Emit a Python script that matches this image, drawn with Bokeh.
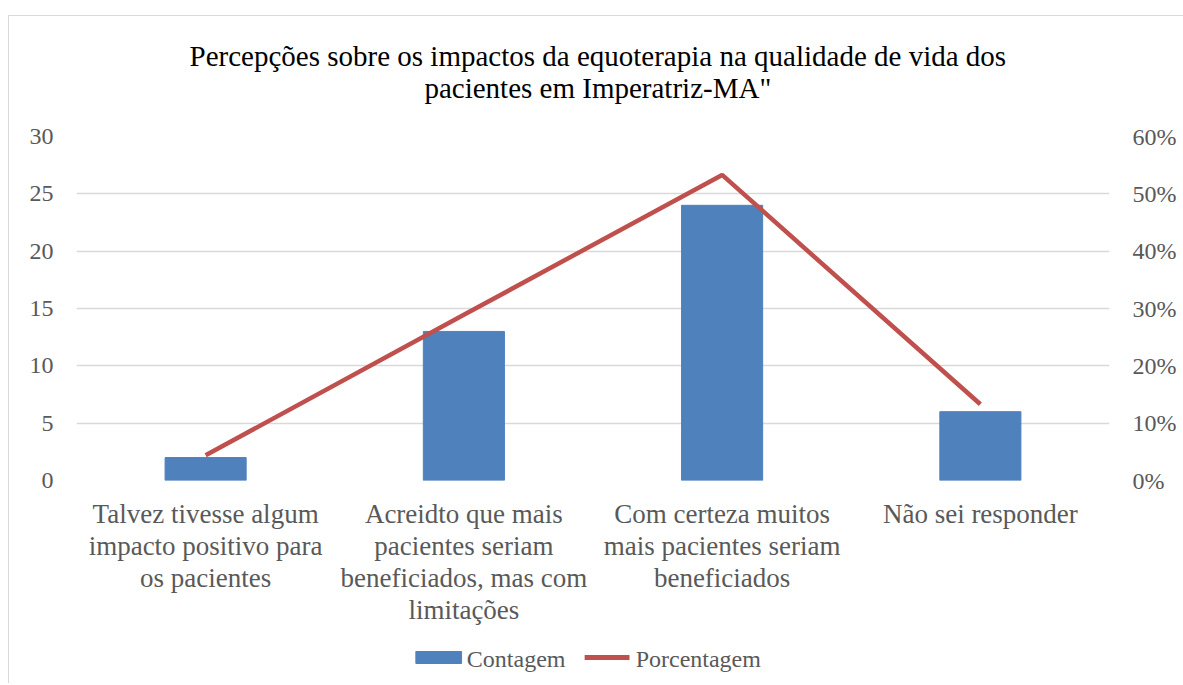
from bokeh.plotting import figure
from bokeh.layouts import column
from bokeh.models import (Range1d, LinearAxis, NumeralTickFormatter, FixedTicker,
                          ColumnDataSource, Label)
from bokeh.embed import file_html
from bokeh.resources import INLINE

categories = [
    "Talvez tivesse algum\nimpacto positivo para\nos pacientes",
    "Acreidto que mais\npacientes seriam\nbeneficiados, mas com\nlimitações",
    "Com certeza muitos\nmais pacientes seriam\nbeneficiados",
    "Não sei responder",
]
contagem = [2, 13, 24, 6]
porcentagem = [0.044, 0.289, 0.533, 0.133]
left_ticks = [0, 5, 10, 15, 20, 25, 30]
right_ticks = [0, 0.1, 0.2, 0.3, 0.4, 0.5, 0.6]
title_lines = ["Percepções sobre os impactos da equoterapia na qualidade de vida dos",
               "pacientes em Imperatriz-MA\""]
series_names = ["Contagem", "Porcentagem"]

SERIF = "Liberation Serif"
BAR = "#4F81BD"
LINE = "#C0504D"
TXT = "#595959"
W = 1175


def blank(height):
    f = figure(width=W, height=height, output_backend="svg", toolbar_location=None,
               x_axis_type=None, y_axis_type=None, min_border=0, title=None,
               x_range=Range1d(0, W), y_range=Range1d(0, height))
    f.outline_line_color = None
    f.xgrid.visible = False
    f.ygrid.visible = False
    f.border_fill_color = "white"
    f.background_fill_color = "white"
    return f


# ---- title block ----
TH = 106
tf = blank(TH)
for txt, yy in zip(title_lines, [67, 35]):
    tf.add_layout(Label(x=593, y=yy, text=txt, text_align="center",
                        text_baseline="middle", text_font=SERIF,
                        text_font_size="29px", text_color="#000000"))

# ---- main chart ----
xs = [i + 0.5 for i in range(len(categories))]
src = ColumnDataSource(dict(x=xs, c=contagem, p=porcentagem))

p = figure(width=W, height=519, output_backend="svg", toolbar_location=None,
           x_range=Range1d(0, len(categories)), y_range=Range1d(0, 30),
           min_border_left=67, min_border_right=75, min_border_top=14,
           min_border_bottom=161, title=None)
p.extra_y_ranges = {"pct": Range1d(0, 0.6)}
p.outline_line_color = None
p.background_fill_color = "white"
p.border_fill_color = "white"

bars = p.vbar(x="x", top="c", width=0.314, source=src, color=BAR)
line = p.line(x="x", y="p", source=src, y_range_name="pct", color=LINE, line_width=4.5)

p.xgrid.grid_line_color = None
p.ygrid.grid_line_color = "#D9D9D9"
p.ygrid.grid_line_width = 1.3
p.yaxis.ticker = FixedTicker(ticks=left_ticks)

ax = p.xaxis[0]
ax.ticker = FixedTicker(ticks=xs)
ax.major_label_overrides = {x: c for x, c in zip(xs, categories)}
ax.major_label_text_font = SERIF
ax.major_label_text_font_size = "27px"
ax.major_label_text_color = TXT
ax.major_label_text_line_height = 1.07
ax.major_label_standoff = 12
ax.axis_line_color = None
ax.major_tick_line_color = None
ax.minor_tick_line_color = None

ly = p.yaxis[0]
ly.major_label_text_font = SERIF
ly.major_label_text_font_size = "24px"
ly.major_label_text_color = TXT
ly.axis_line_color = None
ly.major_tick_line_color = None
ly.minor_tick_line_color = None
ly.major_label_standoff = 17

ry = LinearAxis(y_range_name="pct", ticker=FixedTicker(ticks=right_ticks),
                formatter=NumeralTickFormatter(format="0%"))
ry.major_label_text_font = SERIF
ry.major_label_text_font_size = "24px"
ry.major_label_text_color = TXT
ry.axis_line_color = None
ry.major_tick_line_color = None
ry.minor_tick_line_color = None
ry.major_label_standoff = 17
p.add_layout(ry, "right")

# ---- legend block (swatches + labels) ----
LH = 42
lf = blank(LH)
lf.quad(left=[386], right=[438], bottom=[20], top=[32], color=BAR)
lf.line(x=[578, 629], y=[26, 26], color=LINE, line_width=5)
for txt, xx in zip(series_names, [444, 636]):
    lf.add_layout(Label(x=xx, y=25, text=txt, text_align="left", text_baseline="middle",
                        text_font=SERIF, text_font_size="24px", text_color=TXT))

layout = column(tf, p, lf, spacing=0,
                styles={"border-left": "1px solid #D9D9D9", "border-top": "1px solid #D9D9D9",
                        "margin-left": "8px", "margin-top": "15px"})

open("out.html", "w").write(file_html(layout, INLINE))
